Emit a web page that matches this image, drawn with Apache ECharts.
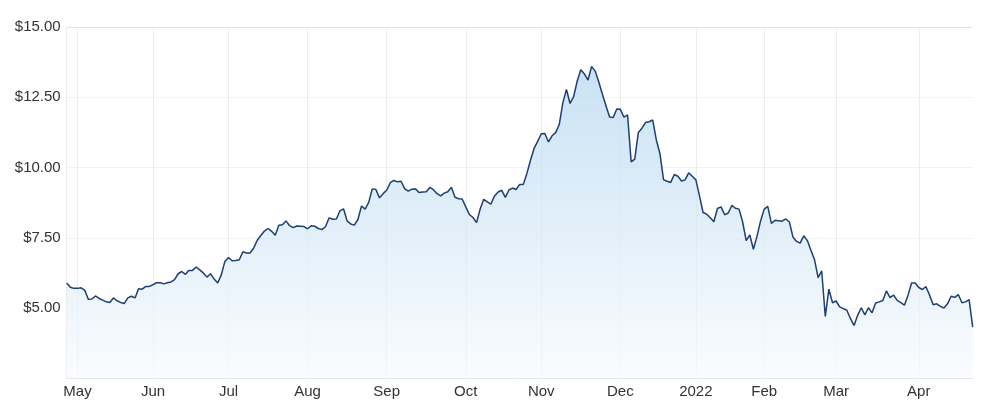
<!DOCTYPE html>
<html>
<head>
<meta charset="utf-8">
<script src="https://cdn.jsdelivr.net/npm/echarts@6/dist/echarts.min.js"></script>
<style>
  html, body { margin: 0; padding: 0; background: #ffffff; }
  #chart { width: 999px; height: 409px; }
</style>
</head>
<body>
<div id="chart"></div>
<script>
// Trading-day range (ASX calendar) and market holidays
const startDate = '2021-04-28';
const endDate = '2022-04-27';
const holidays = ['2021-06-14', '2021-12-27', '2021-12-28', '2022-01-03', '2022-01-26', '2022-04-15', '2022-04-18', '2022-04-25'];

// Month tick labels
const monthLabels = ['2022', 'Feb', 'Mar', 'Apr', 'May', 'Jun', 'Jul', 'Aug', 'Sep', 'Oct', 'Nov', 'Dec'];

// Closing prices, one per trading day
const prices = [
  5.89, 5.74, 5.70, 5.70, 5.72, 5.64, 5.31, 5.32, 5.43, 5.34,
  5.28, 5.22, 5.20, 5.36, 5.26, 5.20, 5.16, 5.36, 5.42, 5.36,
  5.69, 5.67, 5.77, 5.77, 5.83, 5.90, 5.90, 5.86, 5.90, 5.93,
  6.01, 6.22, 6.30, 6.20, 6.34, 6.34, 6.46, 6.36, 6.25, 6.10,
  6.22, 6.03, 5.89, 6.18, 6.66, 6.80, 6.68, 6.69, 6.72, 7.00,
  6.96, 6.96, 7.13, 7.41, 7.58, 7.74, 7.83, 7.73, 7.59, 7.95,
  7.96, 8.10, 7.93, 7.86, 7.92, 7.91, 7.90, 7.82, 7.93, 7.91,
  7.83, 7.79, 7.90, 8.21, 8.16, 8.17, 8.46, 8.53, 8.10, 7.99,
  7.95, 8.15, 8.63, 8.52, 8.76, 9.24, 9.22, 8.92, 9.07, 9.19,
  9.46, 9.54, 9.49, 9.51, 9.25, 9.16, 9.23, 9.24, 9.11, 9.13,
  9.14, 9.29, 9.21, 9.07, 8.99, 9.09, 9.14, 9.30, 8.94, 8.89,
  8.88, 8.60, 8.33, 8.22, 8.04, 8.52, 8.87, 8.78, 8.70, 8.99,
  9.13, 9.19, 8.94, 9.20, 9.27, 9.22, 9.40, 9.40, 9.79, 10.26,
  10.68, 10.93, 11.20, 11.21, 10.91, 11.13, 11.24, 11.53, 12.30, 12.78,
  12.28, 12.52, 13.08, 13.48, 13.33, 13.11, 13.60, 13.43, 13.04, 12.61,
  12.20, 11.80, 11.78, 12.08, 12.07, 11.79, 11.87, 10.20, 10.30, 11.25,
  11.40, 11.60, 11.63, 11.69, 10.98, 10.50, 9.57, 9.51, 9.47, 9.75,
  9.69, 9.52, 9.56, 9.81, 9.69, 9.56, 9.00, 8.40, 8.34, 8.21,
  8.07, 8.54, 8.60, 8.32, 8.38, 8.65, 8.55, 8.52, 8.07, 7.40,
  7.60, 7.09, 7.55, 8.10, 8.52, 8.62, 8.01, 8.12, 8.11, 8.09,
  8.17, 8.06, 7.53, 7.37, 7.31, 7.57, 7.40, 7.06, 6.72, 6.08,
  6.32, 4.70, 5.67, 5.19, 5.25, 5.04, 4.98, 4.92, 4.62, 4.38,
  4.74, 5.01, 4.76, 5.01, 4.83, 5.18, 5.22, 5.27, 5.61, 5.37,
  5.46, 5.27, 5.19, 5.10, 5.45, 5.89, 5.89, 5.73, 5.66, 5.76,
  5.46, 5.12, 5.15, 5.06, 5.00, 5.15, 5.42, 5.38, 5.48, 5.19,
  5.22, 5.30, 4.32
];

// Build trading-day categories
function pad(n) { return (n < 10 ? '0' : '') + n; }
function fmt(d) { return d.getUTCFullYear() + '-' + pad(d.getUTCMonth() + 1) + '-' + pad(d.getUTCDate()); }
const dates = [];
(function () {
  const d = new Date(startDate + 'T00:00:00Z');
  const end = new Date(endDate + 'T00:00:00Z');
  while (d <= end) {
    const wd = d.getUTCDay();
    const s = fmt(d);
    if (wd !== 0 && wd !== 6 && holidays.indexOf(s) < 0) dates.push(s);
    d.setUTCDate(d.getUTCDate() + 1);
  }
})();

// first trading day of each month (excluding the partial first month)
const monthStart = {};
for (let i = 1; i < dates.length; i++) {
  if (dates[i].slice(0, 7) !== dates[i - 1].slice(0, 7)) monthStart[i] = true;
}

const chart = echarts.init(document.getElementById('chart'), null, { renderer: 'canvas' });
const labelFont = '"Liberation Sans", Arial, sans-serif';
chart.setOption({
  animation: false,
  backgroundColor: '#ffffff',
  grid: { left: 66.7, right: 26.3, top: 27, bottom: 30.7, containLabel: false },
  xAxis: {
    type: 'category',
    data: dates,
    boundaryGap: false,
    axisLine: { show: true, lineStyle: { color: '#e3e3e3', width: 1 } },
    axisTick: { show: false, interval: function (i) { return !!monthStart[i]; } },
    axisLabel: {
      interval: function (i) { return !!monthStart[i]; },
      formatter: function (v) { return monthLabels[parseInt(v.slice(5, 7), 10) - 1]; },
      color: '#333333',
      fontSize: 15,
      fontFamily: labelFont,
      margin: 6
    },
    splitLine: {
      show: true,
      interval: function (i) { return !!monthStart[i]; },
      lineStyle: { color: '#ececec', width: 1 }
    }
  },
  yAxis: {
    type: 'value',
    min: 2.5,
    max: 15,
    interval: 2.5,
    axisLine: { show: true, lineStyle: { color: '#ececec', width: 1 } },
    axisTick: { show: false },
    axisLabel: {
      showMinLabel: false,
      formatter: function (v) { return '$' + v.toFixed(2); },
      color: '#333333',
      fontSize: 15,
      fontFamily: labelFont,
      margin: 6,
      padding: [0, 0, 3, 0]
    },
    splitLine: {
      show: true,
      lineStyle: { color: ['#f2f2f2', '#f2f2f2', '#f2f2f2', '#f2f2f2', '#f2f2f2', '#e3e3e3'], width: 1 }
    }
  },
  series: [{
    type: 'line',
    data: prices,
    symbol: 'none',
    smooth: false,
    lineStyle: { color: '#1d3f73', width: 1.5 },
    areaStyle: {
      color: new echarts.graphic.LinearGradient(0, 0, 0, 1, [
        { offset: 0, color: 'rgba(178,214,240,1)' },
        { offset: 1, color: 'rgba(248,251,254,1)' }
      ])
    }
  }]
});
</script>
</body>
</html>
